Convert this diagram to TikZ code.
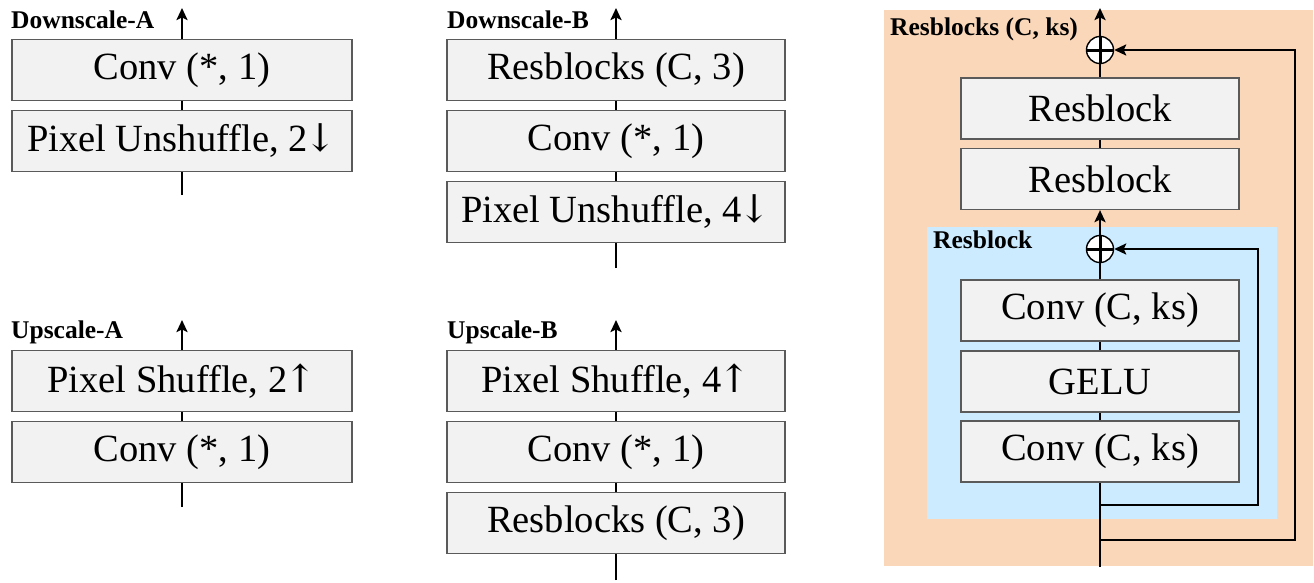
\documentclass[tikz,border=0pt]{standalone}
\usepackage{fontspec}
\setmainfont{Liberation Serif}
\newfontfamily\arrowfont{DejaVu Serif}
\usetikzlibrary{arrows.meta}
\definecolor{boxfill}{HTML}{F2F2F2}
\definecolor{boxline}{HTML}{5A5A5A}
\definecolor{orangebg}{HTML}{FAD7B9}
\definecolor{bluebg}{HTML}{CCEBFF}
\newcommand{\dnarr}{\kern-3pt{\arrowfont\char"2193}}
\newcommand{\uparr}{\kern-3pt{\arrowfont\char"2191}}
\begin{document}
\begin{tikzpicture}[x=1pt,y=-1pt,
  blk/.style={draw=boxline,line width=1.2pt,fill=boxfill,inner sep=0pt,minimum height=61pt,
    font=\fontsize{38.5}{40}\selectfont},
  blkA/.style={blk,minimum width=340pt},
  blkB/.style={blk,minimum width=338pt},
  blkR/.style={blk,minimum width=278pt},
  ttl/.style={anchor=base west,inner sep=0pt,font=\fontsize{25.5}{27}\selectfont\bfseries},
  wire/.style={line width=2.4pt,draw=black},
  arr/.style={wire,-{Stealth[length=12pt,width=11pt,inset=2.5pt]}},
  plus/.style={circle,draw=black,line width=1.4pt,fill=white,minimum size=27pt,inner sep=0pt,
    path picture={\draw[line width=3pt] (path picture bounding box.north) -- (path picture bounding box.south)
      (path picture bounding box.west) -- (path picture bounding box.east);}}
]
\useasboundingbox (0,0) rectangle (1314,582);

% ---------- Downscale-A ----------
\node[ttl] (tDA) at (11,28) {Downscale-A};
\node[blkA] (da1) at (182,70) {Conv (*, 1)};
\node[blkA] (da2) at (182,141) {Pixel Unshuffle, 2\dnarr};
\coordinate (daTop) at (182,8);
\coordinate (daBot) at (182,195);
\draw[wire] (daBot) -- (da2.south);
\draw[wire] (da2.north) -- (da1.south);
\draw[arr] (da1.north) -- (daTop);

% ---------- Downscale-B ----------
\node[ttl] (tDB) at (447,28) {Downscale-B};
\node[blkB] (db1) at (616,70) {Resblocks (C, 3)};
\node[blkB] (db2) at (616,141) {Conv (*, 1)};
\node[blkB] (db3) at (616,212) {Pixel Unshuffle, 4\dnarr};
\coordinate (dbTop) at (616,8);
\coordinate (dbBot) at (616,268);
\draw[wire] (dbBot) -- (db3.south);
\draw[wire] (db3.north) -- (db2.south);
\draw[wire] (db2.north) -- (db1.south);
\draw[arr] (db1.north) -- (dbTop);

% ---------- Upscale-A ----------
\node[ttl] (tUA) at (11,338) {Upscale-A};
\node[blkA] (ua1) at (182,381) {Pixel Shuffle, 2\uparr};
\node[blkA] (ua2) at (182,452) {Conv (*, 1)};
\coordinate (uaTop) at (182,320);
\coordinate (uaBot) at (182,507);
\draw[wire] (uaBot) -- (ua2.south);
\draw[wire] (ua2.north) -- (ua1.south);
\draw[arr] (ua1.north) -- (uaTop);

% ---------- Upscale-B ----------
\node[ttl] (tUB) at (447,338) {Upscale-B};
\node[blkB] (ub1) at (616,381) {Pixel Shuffle, 4\uparr};
\node[blkB] (ub2) at (616,452) {Conv (*, 1)};
\node[blkB] (ub3) at (616,523) {Resblocks (C, 3)};
\coordinate (ubTop) at (616,320);
\coordinate (ubBot) at (616,580);
\draw[wire] (ubBot) -- (ub3.south);
\draw[wire] (ub3.north) -- (ub2.south);
\draw[wire] (ub2.north) -- (ub1.south);
\draw[arr] (ub1.north) -- (ubTop);

% ---------- Resblocks (C, ks) ----------
\fill[orangebg] (884,10) rectangle (1313,566);
\fill[bluebg] (927,227) rectangle (1277,519);
\node[ttl] (tRS) at (890,35) {Resblocks (C, ks)};
\node[ttl] (tRB) at (933,248) {Resblock};

\node[blkR] (r1) at (1100,108.5) {Resblock};
\node[blkR] (r2) at (1100,179) {Resblock};
\node[blkR] (c1) at (1100,310.5) {Conv (C, ks)};
\node[blkR] (g1) at (1100,381.5) {GELU};
\node[blkR] (c2) at (1100,451.5) {Conv (C, ks)};
\node[plus] (p1) at (1100,50) {};
\node[plus] (p2) at (1100,249) {};

\coordinate (rTop) at (1100,8);
\coordinate (rBot) at (1100,567);
\coordinate (s1) at (1100,540);
\coordinate (s1r) at (1295,540);
\coordinate (s2) at (1100,505);
\coordinate (s2r) at (1258,505);

\draw[wire] (rBot) -- (c2.south);
\draw[wire] (c2.north) -- (g1.south);
\draw[wire] (g1.north) -- (c1.south);
\draw[wire] (c1.north) -- (p2.south);
\draw[arr] (p2.north) -- (r2.south);
\draw[wire] (r2.north) -- (r1.south);
\draw[wire] (r1.north) -- (p1.south);
\draw[arr] (p1.north) -- (rTop);
\draw[arr] (s1) -- (s1r) |- (p1.east);
\draw[arr] (s2) -- (s2r) |- (p2.east);
\end{tikzpicture}
\end{document}
